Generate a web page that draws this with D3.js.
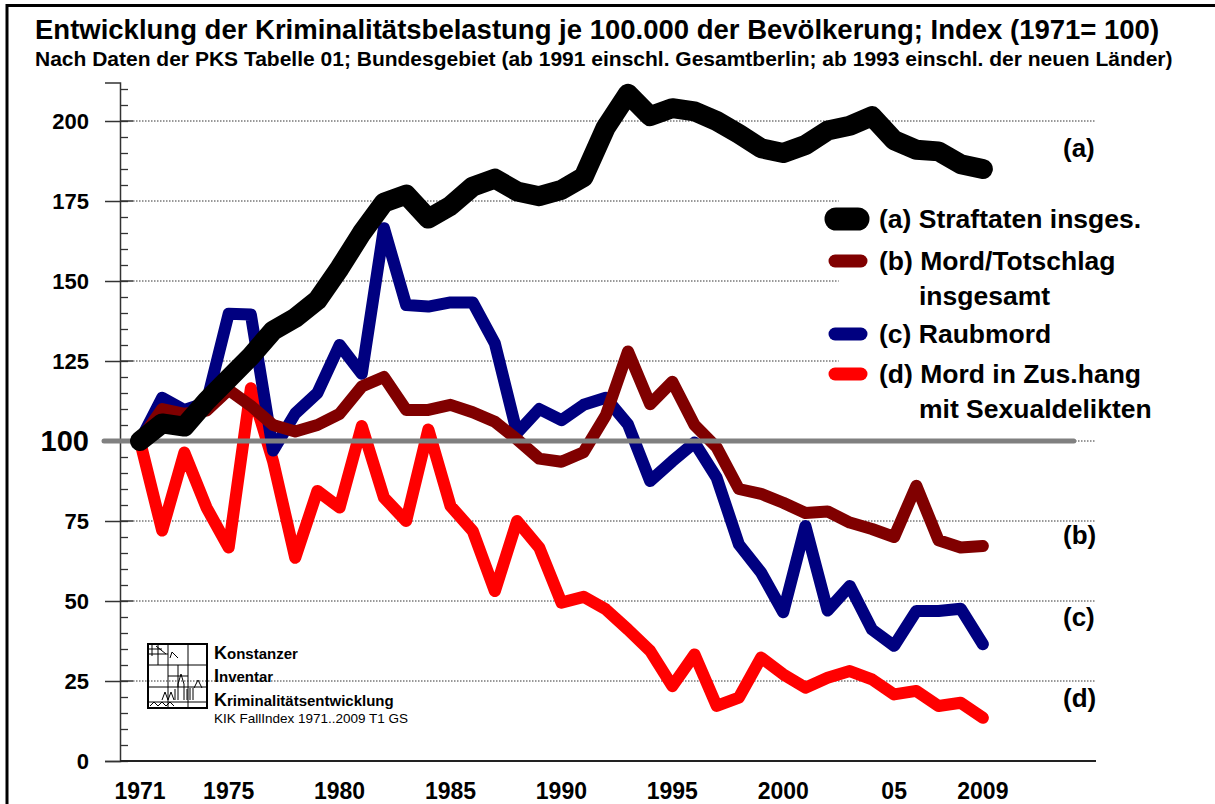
<!DOCTYPE html>
<html>
<head>
<meta charset="utf-8">
<script src="https://cdn.jsdelivr.net/npm/d3@7"></script>
<style>
  body { margin: 0; background: #fff; }
  text { font-family: "Liberation Sans", Arial, sans-serif; }
</style>
</head>
<body>
<div id="chart"></div>
<script>
// data (index, 1971 = 100)
const years = [1971, 1972, 1973, 1974, 1975, 1976, 1977, 1978, 1979, 1980,
               1981, 1982, 1983, 1984, 1985, 1986, 1987, 1988, 1989, 1990,
               1991, 1992, 1993, 1994, 1995, 1996, 1997, 1998, 1999, 2000,
               2001, 2002, 2003, 2004, 2005, 2006, 2007, 2008, 2009];

const straftaten = [100, 105.5, 104.5, 112.5, 119.5, 126.5, 134.5, 138.5, 144, 154,
                    165, 174.5, 177, 169.5, 173.5, 179.5, 182, 178, 176.5, 178.5,
                    182.5, 198, 208.5, 201.5, 204, 203, 200, 196, 191.5, 190,
                    192.5, 197, 198.5, 201.5, 194, 191, 190.5, 186.5, 185];

const mordTotschlag = [100, 110, 108.5, 109.5, 116, 111, 105, 103, 105, 108.5,
                       117, 120, 109.7, 109.7, 111.3, 109, 106, 100.5, 94.5, 93.5,
                       96.5, 108, 128, 111.5, 118.5, 105, 98, 85, 83.5, 80.7,
                       77.5, 78, 74.5, 72.5, 70, 86, 69, 66.7, 67.2];

const raubmord = [100, 113.5, 109.7, 112, 139.8, 139.5, 97, 108.6, 115, 130,
                  121, 166.5, 142.5, 142, 143.3, 143.3, 130.5, 102.5, 110, 106.5,
                  111.3, 113.5, 105.2, 87.5, 93.7, 99.5, 88.5, 67.7, 58.9, 46.5,
                  73.4, 47, 54.7, 41.1, 36, 46.9, 46.9, 47.6, 36.5];

const sexualMord = [100, 72, 96.4, 79.2, 66.7, 116.5, 93.7, 63.5, 84.4, 79.2,
                    104.7, 82.3, 75, 103.6, 79.7, 71.9, 53.1, 75, 66.7, 49.5,
                    51.3, 47.4, 41.1, 34.4, 23.4, 33.3, 17.2, 19.8, 32.3, 27.1,
                    22.9, 26, 28.1, 25.5, 20.8, 21.9, 17.2, 18.2, 13.5];

const yTicks = [0, 25, 50, 75, 100, 125, 150, 175, 200];
const xTickYears = [1971, 1975, 1980, 1985, 1990, 1995, 2000, 2005, 2009];
const xTickLabels = ["1971", "1975", "1980", "1985", "1990", "1995", "2000", "05", "2009"];

const legendLines = [
    ["(a) Straftaten insges."],
    ["(b) Mord/Totschlag", "insgesamt"],
    ["(c) Raubmord"],
    ["(d) Mord in Zus.hang", "mit Sexualdelikten"]
];
const endLabels = ["(a)", "(b)", "(c)", "(d)"];

let svg = d3.select("#chart").append("svg")
    .attr("width", 1215).attr("height", 804);

// frame
svg.append("rect")
    .attr("x", 7).attr("y", 5.5)
    .attr("width", 1300).attr("height", 900)
    .attr("fill", "none").attr("stroke", "#000").attr("stroke-width", 3);

// titles
svg.append("text")
    .attr("x", 35).attr("y", 39)
    .style("font-size", "27.5px").style("font-weight", "bold")
    .text("Entwicklung der Kriminalitätsbelastung je 100.000 der Bevölkerung; Index (1971= 100)");
svg.append("text")
    .attr("x", 35).attr("y", 66)
    .style("font-size", "21px").style("font-weight", "bold")
    .text("Nach Daten der PKS Tabelle 01; Bundesgebiet (ab 1991 einschl. Gesamtberlin; ab 1993 einschl. der neuen Länder)");

let x = d3.scaleLinear().domain([1970.1, 2014.1]).range([120, 1096]);
let y = d3.scaleLinear().domain([0, 212]).range([761, 82.6]);

// dotted grid lines (some stop before the legend)
yTicks.filter(v => v > 0).forEach(v => {
    let short = (v === 125 || v === 150 || v === 175);
    svg.append("line")
        .attr("x1", 133).attr("x2", short ? x(2002.5) : x(2014.1))
        .attr("y1", y(v)).attr("y2", y(v))
        .attr("stroke", "#333").attr("stroke-width", 1)
        .attr("stroke-dasharray", "1.5,1.5");
});

// minor ticks on the inside of the axis
svg.append("g")
    .attr("transform", "translate(120,0)")
    .call(d3.axisRight(y).ticks(42).tickSize(8).tickFormat(""))
    .call(g => g.select(".domain").remove())
    .selectAll("line").attr("stroke", "#333").attr("stroke-width", 1.3);

// major ticks + labels
let yAxis = svg.append("g")
    .attr("transform", "translate(120,0)")
    .call(d3.axisLeft(y).tickValues(yTicks).tickSize(15).tickPadding(16));
yAxis.select(".domain").attr("stroke", "#333").attr("stroke-width", 1.5);
yAxis.selectAll(".tick line").attr("stroke", "#333").attr("stroke-width", 1.5);
yAxis.selectAll(".tick text")
    .style("font-family", "'Liberation Sans', Arial, sans-serif")
    .style("font-weight", "bold")
    .style("font-size", d => d === 100 ? "29px" : "22px")
    .attr("fill", "#000");
// major ticks cross the axis
svg.append("g").selectAll("line").data(yTicks.filter(v => v > 0)).join("line")
    .attr("x1", 120).attr("x2", 133)
    .attr("y1", d => y(d)).attr("y2", d => y(d))
    .attr("stroke", "#333").attr("stroke-width", 1.5);

// x axis line
svg.append("line")
    .attr("x1", x(1970.1)).attr("x2", x(2014.1))
    .attr("y1", y(0)).attr("y2", y(0))
    .attr("stroke", "#222").attr("stroke-width", 2);

// x labels
svg.append("g").selectAll("text").data(xTickYears).join("text")
    .attr("x", d => x(d)).attr("y", 799)
    .attr("text-anchor", "middle")
    .style("font-size", "23px").style("font-weight", "bold")
    .text((d, i) => xTickLabels[i]);

// series
let line = d3.line().x((d, i) => x(years[i])).y(d => y(d));
let series = [
    { values: sexualMord, color: "#ff0000", width: 12 },
    { values: raubmord, color: "#000080", width: 12 },
    { values: mordTotschlag, color: "#800000", width: 12 }
];
series.forEach(s => {
    svg.append("path")
        .attr("d", line(s.values))
        .attr("fill", "none")
        .attr("stroke", s.color).attr("stroke-width", s.width)
        .attr("stroke-linejoin", "round").attr("stroke-linecap", "round");
});

// reference line at 100
svg.append("line")
    .attr("x1", 104).attr("x2", x(2013.1))
    .attr("y1", y(100)).attr("y2", y(100))
    .attr("stroke", "#808080").attr("stroke-width", 5)
    .attr("stroke-linecap", "round");

svg.append("path")
    .attr("d", line(straftaten))
    .attr("fill", "none")
    .attr("stroke", "#000").attr("stroke-width", 20)
    .attr("stroke-linejoin", "round").attr("stroke-linecap", "round");

// legend
let legendColors = ["#000", "#800000", "#000080", "#ff0000"];
let legendY = [219, 261, 334, 374];
legendLines.forEach((lines, i) => {
    let big = i === 0;
    svg.append("line")
        .attr("x1", big ? 836 : 835).attr("x2", big ? 858 : 861)
        .attr("y1", legendY[i]).attr("y2", legendY[i])
        .attr("stroke", legendColors[i])
        .attr("stroke-width", big ? 23 : 13)
        .attr("stroke-linecap", "round");
    lines.forEach((t, j) => {
        svg.append("text")
            .attr("x", j === 0 ? 879 : 919)
            .attr("y", legendY[i] + 9 + j * 35)
            .style("font-size", "26.5px").style("font-weight", "bold")
            .text(t);
    });
});

// labels at the right end of the lines
svg.append("g").selectAll("text").data(endLabels).join("text")
    .attr("x", 1063)
    .attr("y", (d, i) => [157, 544, 626, 707][i])
    .style("font-size", "26px").style("font-weight", "bold")
    .text(d => d);

// KIK logo
let logo = svg.append("g").attr("transform", "translate(148,644)");
logo.append("rect").attr("width", 59).attr("height", 64)
    .attr("fill", "none").attr("stroke", "#000").attr("stroke-width", 2);
[[20, 0, 20, 64], [40, 0, 40, 64], [0, 21, 59, 21], [0, 43, 59, 43],
 [10, 0, 10, 21], [0, 10, 20, 10], [30, 21, 30, 43], [20, 32, 40, 32],
 [0, 58, 59, 58], [4, 0, 4, 12], [0, 5, 14, 5]].forEach(l => {
    logo.append("line")
        .attr("x1", l[0]).attr("y1", l[1]).attr("x2", l[2]).attr("y2", l[3])
        .attr("stroke", "#000").attr("stroke-width", 1);
});
logo.append("path")
    .attr("d", "M8,2 L18,10 M22,14 L24,8 L30,14 M30,56 L30,40 L33,30 L36,40 L36,56 M27,56 L27,45 M39,56 L39,45 M42,56 L42,44 M45,56 L45,44 M14,56 L17,48 L20,56 L23,48 L26,56 M46,44 L50,36 L54,44 M2,62 L6,58 L10,62 L14,58 L18,62 L22,58 L26,62")
    .attr("fill", "none").attr("stroke", "#000").attr("stroke-width", 1);

let logoText = [["K", "onstanzer", 659], ["I", "nventar", 682], ["K", "riminalitätsentwicklung", 706]];
logoText.forEach(t => {
    let txt = svg.append("text").attr("x", 214).attr("y", t[2])
        .style("font-weight", "bold").style("font-size", "15px");
    txt.append("tspan").style("font-size", "18px").text(t[0]);
    txt.append("tspan").text(t[1]);
});
svg.append("text").attr("x", 214).attr("y", 723)
    .style("font-size", "13.5px")
    .text("KIK FallIndex 1971..2009 T1 GS");
</script>
</body>
</html>
